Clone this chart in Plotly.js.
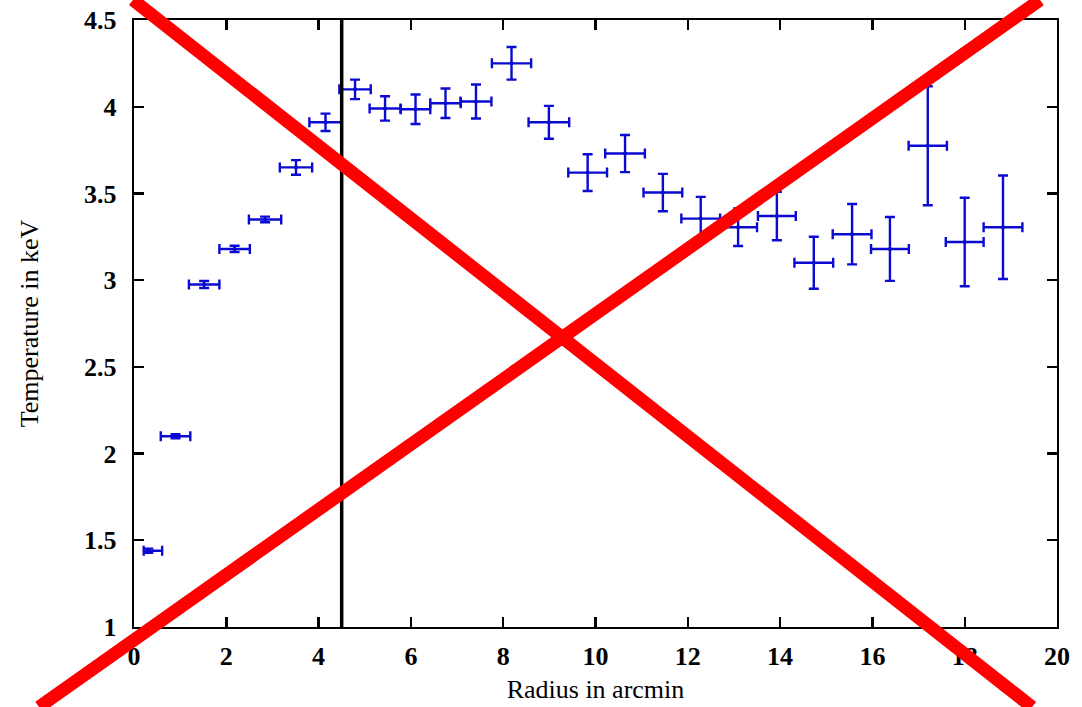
<!DOCTYPE html>
<html>
<head>
<meta charset="utf-8">
<script src="https://cdn.plot.ly/plotly-3.0.1.min.js"></script>
<style>
  html, body { margin: 0; padding: 0; background: #ffffff; }
  #chart { width: 1082px; height: 707px; }
</style>
</head>
<body>
<div id="chart"></div>
<script>
// Projected temperature profile: one point per annulus (radius in arcmin, kT in keV)
const radius = [0.31, 0.90, 1.52, 2.18, 2.84, 3.51, 4.15, 4.79, 5.44, 6.10, 6.75, 7.41, 8.18,
                8.99, 9.83, 10.64, 11.46, 12.28, 13.09, 13.93, 14.73, 15.56, 16.38, 17.20, 18.00, 18.83];
const radiusErrMinus = [0.10, 0.32, 0.33, 0.33, 0.35, 0.35, 0.35, 0.34, 0.335, 0.32, 0.33, 0.335, 0.425,
                        0.44, 0.42, 0.43, 0.42, 0.42, 0.41, 0.41, 0.42, 0.42, 0.41, 0.415, 0.41, 0.42];
const radiusErrPlus = [0.30, 0.32, 0.33, 0.33, 0.35, 0.35, 0.35, 0.34, 0.335, 0.32, 0.33, 0.335, 0.425,
                       0.44, 0.42, 0.43, 0.42, 0.42, 0.41, 0.41, 0.42, 0.42, 0.41, 0.415, 0.41, 0.42];
const temperature = [1.44, 2.10, 2.975, 3.18, 3.35, 3.65, 3.91, 4.10, 3.99, 3.985, 4.02, 4.03, 4.25,
                     3.91, 3.62, 3.73, 3.505, 3.355, 3.305, 3.37, 3.10, 3.265, 3.18, 3.775, 3.22, 3.305];
const temperatureErr = [0.012, 0.012, 0.02, 0.018, 0.016, 0.042, 0.05, 0.056, 0.07, 0.085, 0.085, 0.098, 0.094,
                        0.095, 0.106, 0.107, 0.108, 0.125, 0.108, 0.14, 0.15, 0.174, 0.184, 0.343, 0.255, 0.298];

// Radius marking the inner region
const boundaryRadius = 4.5;

const xTickValues = [0, 2, 4, 6, 8, 10, 12, 14, 16, 18, 20];
const yTickValues = [1, 1.5, 2, 2.5, 3, 3.5, 4, 4.5];
const xTitle = 'Radius in arcmin';
const yTitle = 'Temperature in keV';

const serif = 'Liberation Serif, Times New Roman, serif';
const blue = '#0a0ad2';

const trace = {
  type: 'scatter',
  mode: 'markers',
  x: radius,
  y: temperature,
  marker: { color: blue, size: 4, symbol: 'circle' },
  error_x: {
    type: 'data', symmetric: false,
    array: radiusErrPlus, arrayminus: radiusErrMinus,
    color: blue, thickness: 2.4, width: 5
  },
  error_y: {
    type: 'data', array: temperatureErr,
    color: blue, thickness: 2.4, width: 5
  },
  hoverinfo: 'x+y',
  showlegend: false,
  cliponaxis: false
};

const axisCommon = {
  showline: true, linecolor: '#000', linewidth: 2.4, mirror: 'ticks',
  ticks: 'inside', ticklen: 10, tickwidth: 2.4, tickcolor: '#000',
  showgrid: false, zeroline: false,
  tickfont: { family: serif, size: 26, color: '#000', weight: 'bold' }
};

const layout = {
  width: 1082, height: 707,
  margin: { l: 134, r: 25, t: 20, b: 80 },
  paper_bgcolor: '#fff', plot_bgcolor: '#fff',
  xaxis: Object.assign({}, axisCommon, {
    range: [0, 20], tickmode: 'array', tickvals: xTickValues,
    ticklabelstandoff: 4,
    title: { text: xTitle, font: { family: serif, size: 26, color: '#000' }, standoff: 10 }
  }),
  yaxis: Object.assign({}, axisCommon, {
    range: [1, 4.5], tickmode: 'array', tickvals: yTickValues,
    ticklabelstandoff: 10,
    title: { text: yTitle, font: { family: serif, size: 26, color: '#000' }, standoff: 38 }
  }),
  shapes: [
    { type: 'line', xref: 'x', yref: 'paper', x0: boundaryRadius, x1: boundaryRadius, y0: 0, y1: 1,
      line: { color: '#000', width: 3.5 }, layer: 'above' },
    // big red cross over the whole figure
    { type: 'line', xref: 'paper', yref: 'paper', x0: -0.0011, y0: 1.033, x1: 0.973, y1: -0.1318,
      line: { color: '#ff0000', width: 13 }, layer: 'above' },
    { type: 'line', xref: 'paper', yref: 'paper', x0: -0.1029, y0: -0.1318, x1: 0.9816, y1: 1.033,
      line: { color: '#ff0000', width: 13 }, layer: 'above' }
  ]
};

Plotly.newPlot('chart', [trace], layout, { displayModeBar: false, staticPlot: true });
</script>
</body>
</html>
